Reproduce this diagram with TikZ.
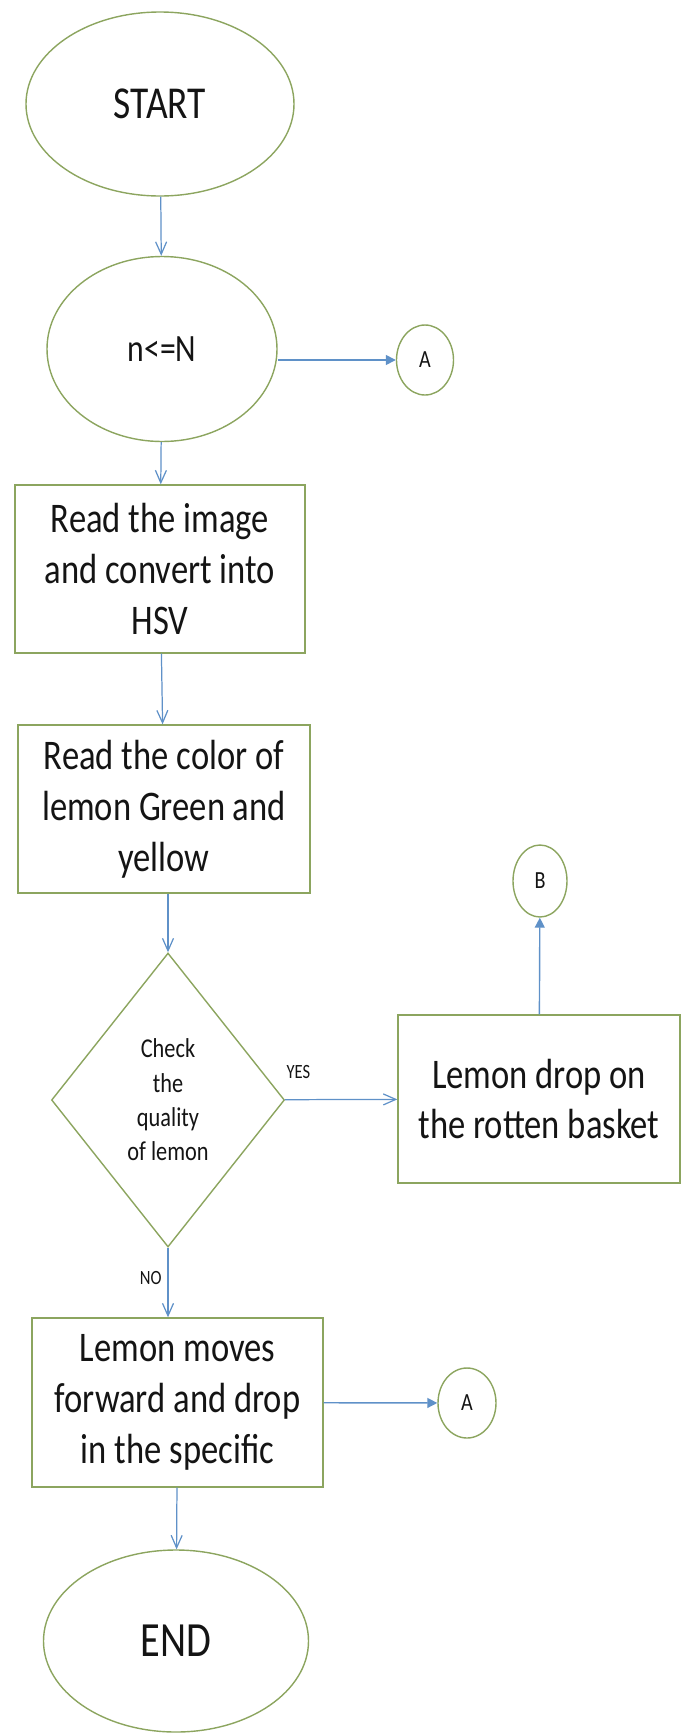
\documentclass[tikz,border=0pt]{standalone}
\usepackage{fontspec}
\setmainfont{Carlito}[FakeStretch=0.82]
\definecolor{outline}{RGB}{140, 165, 95}
\definecolor{flow}{RGB}{95, 145, 200}
\definecolor{ink}{RGB}{20, 20, 20}
\usetikzlibrary{shapes.geometric, arrows.meta}

\begin{document}
\begin{tikzpicture}[
      term/.style={draw=outline, ellipse, line width=0.8pt, inner sep=0pt, text=ink},
      box/.style={draw=outline, line width=0.8pt, minimum width=5.8cm, minimum height=3.36cm, align=center, text=ink, font=\fontsize{24}{29}\selectfont},
      decision/.style={draw=outline, diamond, line width=0.8pt, inner sep=0pt, minimum width=4.66cm, minimum height=5.88cm, align=center, text=ink, font=\fontsize{15.5}{19.5}\selectfont},
      conn/.style={draw=outline, ellipse, line width=0.8pt, inner sep=0pt, minimum width=1.14cm, minimum height=1.4cm, text=ink, font=\fontsize{14}{17}\selectfont},
      arrow/.style={-{Straight Barb[length=2.5mm, width=2.2mm]}, flow, line width=0.7pt},
      arrowfill/.style={-{Triangle[length=2mm, width=2mm]}, flow, line width=0.8pt},
      tag/.style={text=ink, font=\fontsize{11.5}{14}\selectfont}
    ]
      \useasboundingbox (0,0) rectangle (13.64,-34.66);

      % Start and loop test
      \node[term, minimum width=5.36cm, minimum height=3.68cm, font=\fontsize{26}{31}\selectfont] (start) at (3.2,-2.08) {START};
      \node[term, minimum width=4.6cm, minimum height=3.7cm, font=\fontsize{22}{26}\selectfont] (cond) at (3.24,-6.98) {n<=N};
      \node[conn] (conA) at (8.5,-7.2) {A};

      % Image steps
      \node[box] (readimg) at (3.2,-11.38) {Read the image\\and convert into\\HSV};
      \node[box, minimum width=5.84cm] (readcol) at (3.28,-16.18) {Read the color of\\lemon Green and\\yellow};

      % Quality check
      \node[decision] (check) at (3.36,-22.0) {Check\\the\\quality\\of lemon};
      \node[box, minimum width=5.64cm] (rotten) at (10.78,-21.98) {Lemon drop on\\the rotten basket};
      \node[conn, minimum width=1.08cm, minimum height=1.44cm] (conB) at (10.8,-17.62) {B};

      % Sorting and end
      \node[box, minimum width=5.82cm, minimum height=3.38cm] (forward) at (3.55,-28.05) {Lemon moves\\forward and drop\\in the specific};
      \node[conn, minimum width=1.16cm] (conA2) at (9.34,-28.06) {A};
      \node[term, minimum width=5.3cm, minimum height=3.64cm, font=\fontsize{28}{34}\selectfont] (stop) at (3.52,-32.82) {END};

      % Arrows
      \draw[arrow] (start) -- (cond);
      \draw[arrowfill] (cond.east |- conA) -- (conA);
      \draw[arrow] (cond) -- (readimg);
      \draw[arrow] (readimg) -- (readcol);
      \draw[arrow] (readcol.south -| check.north) -- (check.north);
      \draw[arrow] (check) -- node[tag, pos=0.12, above=0.3cm] {YES} (rotten);
      \draw[arrowfill] (rotten) -- (conB);
      \draw[arrow] (check.south) -- node[tag, pos=0.44, left] {NO} (check.south |- forward.north);
      \draw[arrowfill] (forward) -- (conA2);
      \draw[arrow] (forward) -- (stop);
    \end{tikzpicture}
\end{document}
